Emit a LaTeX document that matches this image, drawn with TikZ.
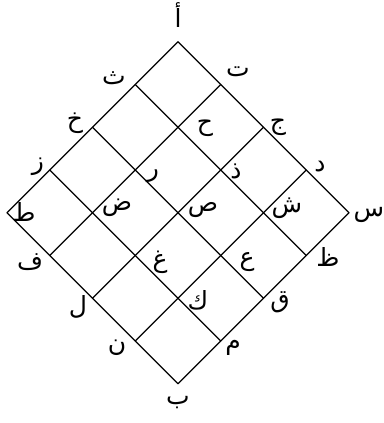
\documentclass[tikz,border=0pt]{standalone}
\usepackage{fontspec}
\newfontfamily\arabicfont[Script=Arabic]{DejaVu Sans}
\TeXXeTstate=1
\begin{document}
\begin{tikzpicture}[x=1pt,y=-1pt,
  gridline/.style={line width=1.2pt,line cap=round},
  lab/.style={font=\arabicfont\fontsize{25}{25}\selectfont,inner sep=0pt,anchor=center}]
\useasboundingbox (0,0) rectangle (383,423);
\foreach \i in {0,...,4}{
  \foreach \j in {0,...,4}{
    \coordinate (p\i\j) at ({178+42.75*(\i-\j)},{41.7+42.75*(\i+\j)});
  }
}
\foreach \k in {0,...,4}{
  \draw[gridline] (p\k0) -- (p\k4);
  \draw[gridline] (p0\k) -- (p4\k);
}
\newcommand{\AL}[3]{\node[lab] (#1) at #2 {\beginR #3\endR};}
\AL{la}{(178,15)}{أ}
\AL{lt}{(238,72)}{ت}
\AL{lth}{(114,78)}{ث}
\AL{lkh}{(75,123)}{خ}
\AL{lz}{(38,167)}{ز}
\AL{ltt}{(24,212)}{ط}
\AL{lf}{(30,262)}{ف}
\AL{ll}{(78,307)}{ل}
\AL{ln}{(117,348)}{ن}
\AL{lb}{(178,403)}{ب}
\AL{lm}{(233,348)}{م}
\AL{lq}{(280,302)}{ق}
\AL{lzz}{(328,257)}{ظ}
\AL{ls}{(369,215)}{س}
\AL{ld}{(320,167)}{د}
\AL{lj}{(278,127)}{ج}
\AL{lh}{(205,128)}{ح}
\AL{lr}{(153,176)}{ر}
\AL{ldh}{(236,171)}{ذ}
\AL{ldd}{(117,208)}{ض}
\AL{lss}{(203,210)}{ص}
\AL{lsh}{(287,208)}{ش}
\AL{lgh}{(160,262)}{غ}
\AL{lain}{(247,262)}{ع}
\AL{lk}{(198,300)}{ك}
\end{tikzpicture}
\end{document}
